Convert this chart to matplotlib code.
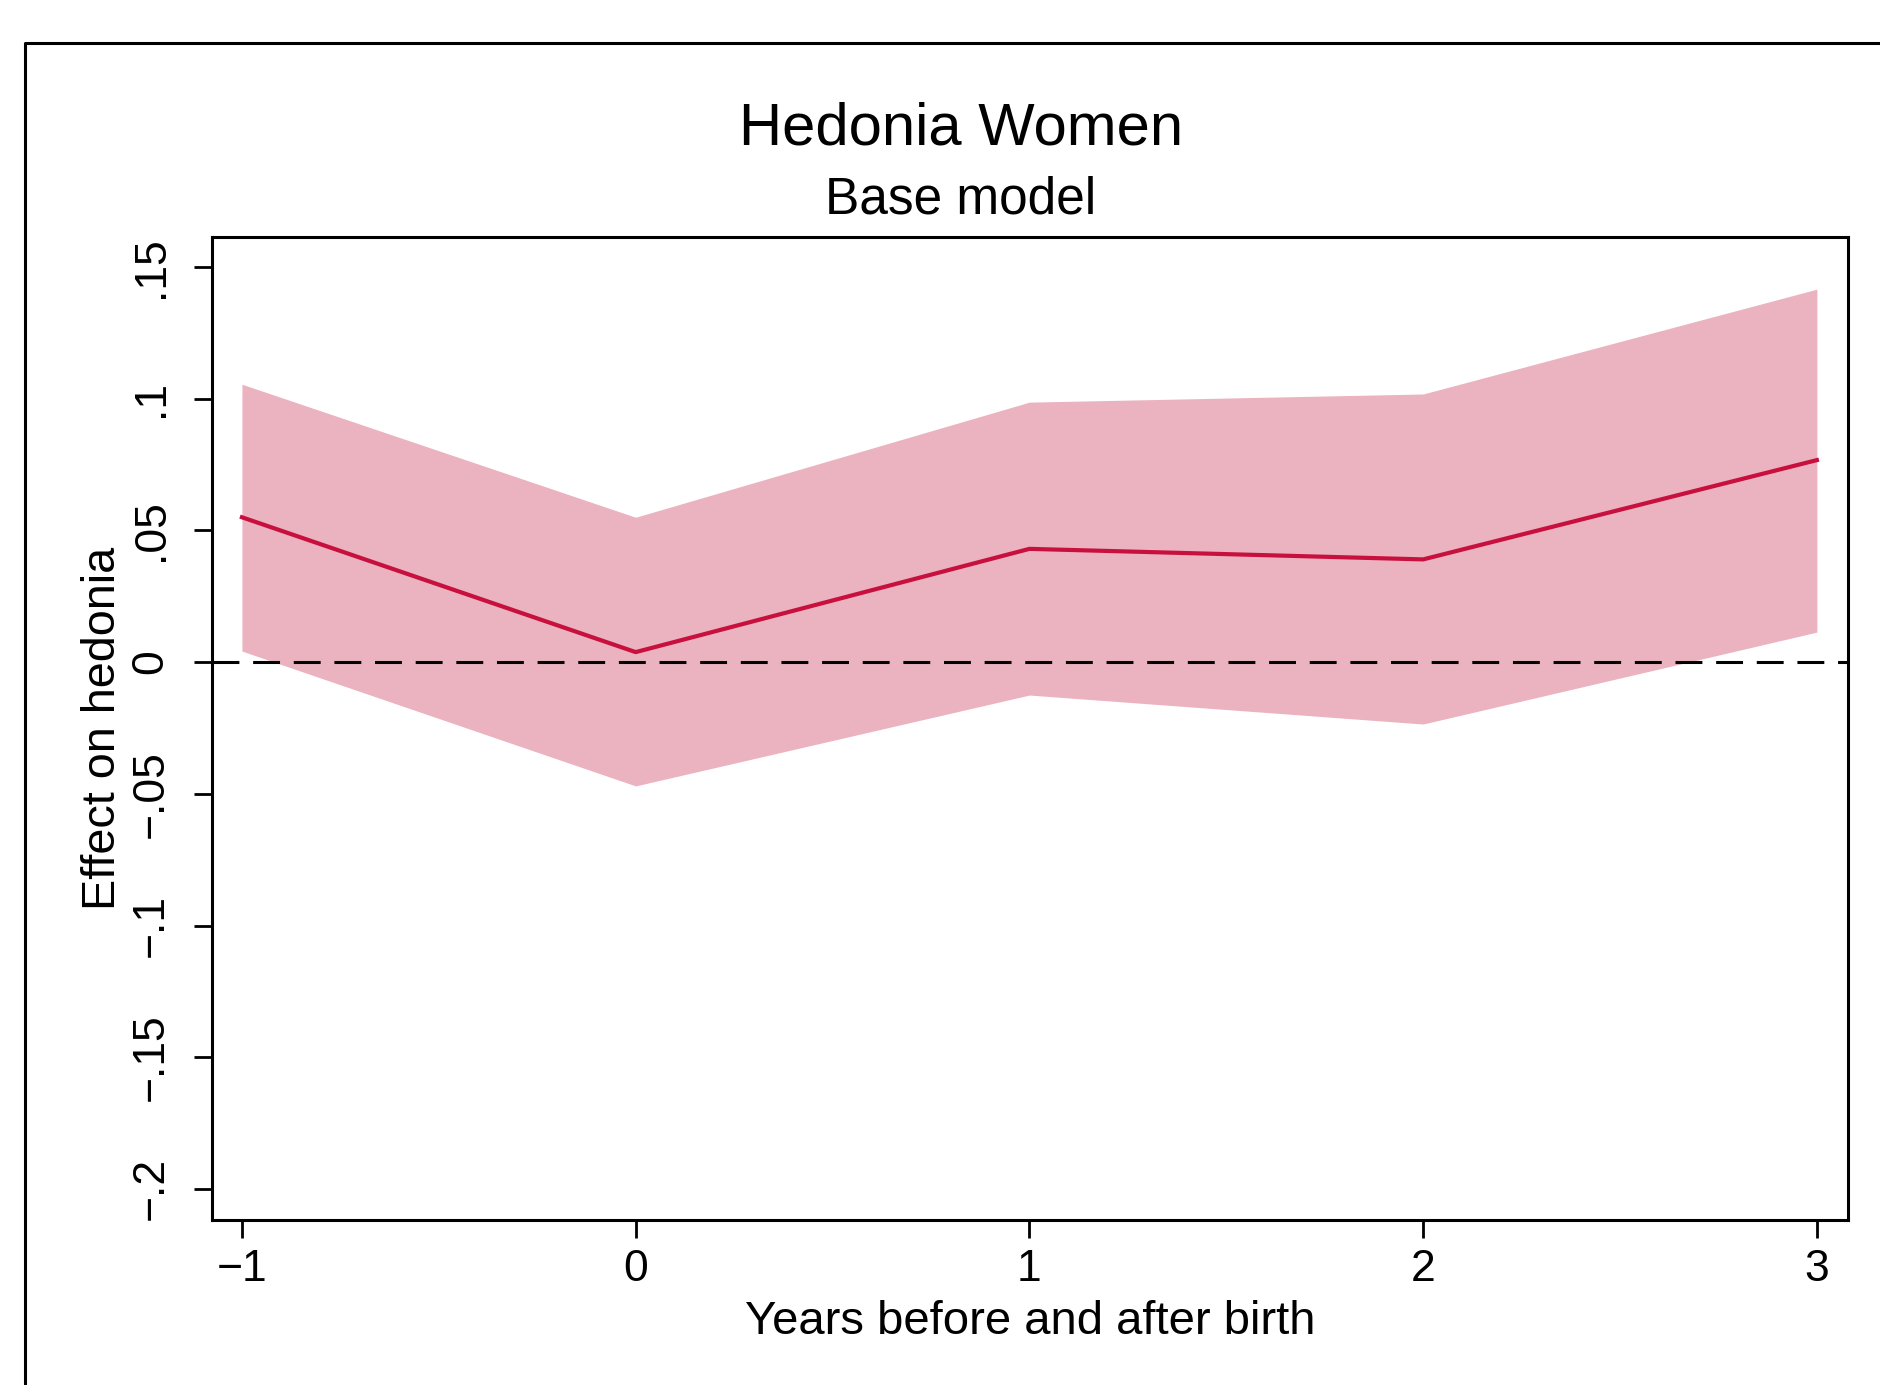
import numpy as np
import matplotlib
matplotlib.use("Agg")
import matplotlib.pyplot as plt
from matplotlib.lines import Line2D

plt.rcParams['font.family'] = ['Liberation Sans', 'DejaVu Sans']

# estimates
years = [-1, 0, 1, 2, 3]
effect = [0.055, 0.0038, 0.043, 0.039, 0.0767]
ci_low = [0.0042, -0.047, -0.0125, -0.0235, 0.0114]
ci_high = [0.1055, 0.055, 0.0987, 0.1018, 0.1416]

yticks = [-0.2, -0.15, -0.1, -0.05, 0, 0.05, 0.1, 0.15]
ytick_labels = ["\u2212.2", "\u2212.15", "\u2212.1", "\u2212.05", "0", ".05", ".1", ".15"]
xticks = [-1, 0, 1, 2, 3]
xtick_labels = ["\u22121", "0", "1", "2", "3"]

W, H = 1881, 1385
fig = plt.figure(figsize=(W / 100, H / 100), dpi=100)
fig.patch.set_facecolor("white")

# outer graph frame (only left and top edges visible)
fig.add_artist(Line2D([25 / W, 25 / W, 1.0], [0.0, 1 - 43 / H, 1 - 43 / H],
                      transform=fig.transFigure, color="black", lw=2.2))

ax = fig.add_axes([212 / W, 1 - 1220 / H, (1848 - 212) / W, (1220 - 237) / H])

ax.fill_between(years, ci_low, ci_high, color="#EBB2C0", lw=0, zorder=1)
ax.plot(years, effect, color="#C8103E", lw=3.0, zorder=3)
ax.axhline(0, color="black", lw=2.2, dashes=(8.8, 4.5), zorder=2)

ax.set_xlim(-1.076, 3.079)
ax.set_ylim(-0.2118, 0.1614)

ax.set_xticks(xticks)
ax.set_xticklabels(xtick_labels)
ax.set_yticks(yticks)
ax.set_yticklabels(ytick_labels, rotation=90, va="center")

ax.tick_params(axis="both", direction="out", length=13, width=2.0, labelsize=32)
ax.tick_params(axis="x", pad=8)
ax.tick_params(axis="y", pad=16)

for s in ax.spines.values():
    s.set_linewidth(2.2)

ax.set_xlabel("Years before and after birth", fontsize=34)
ax.xaxis.set_label_coords(0.5, (1220 - 1322) / 983)
ax.xaxis.label.set_va("center")
ax.set_ylabel("Effect on hedonia", fontsize=33.7)
ax.yaxis.set_label_coords((103 - 212) / 1636, 0.5)
ax.yaxis.label.set_va("center")

fig.text(961 / W, 1 - 129 / H, "Hedonia Women", fontsize=43, ha="center", va="center")
fig.text(961 / W, 1 - 200 / H, "Base model", fontsize=37, ha="center", va="center")

fig.savefig("out.png", dpi=100, facecolor="white")
